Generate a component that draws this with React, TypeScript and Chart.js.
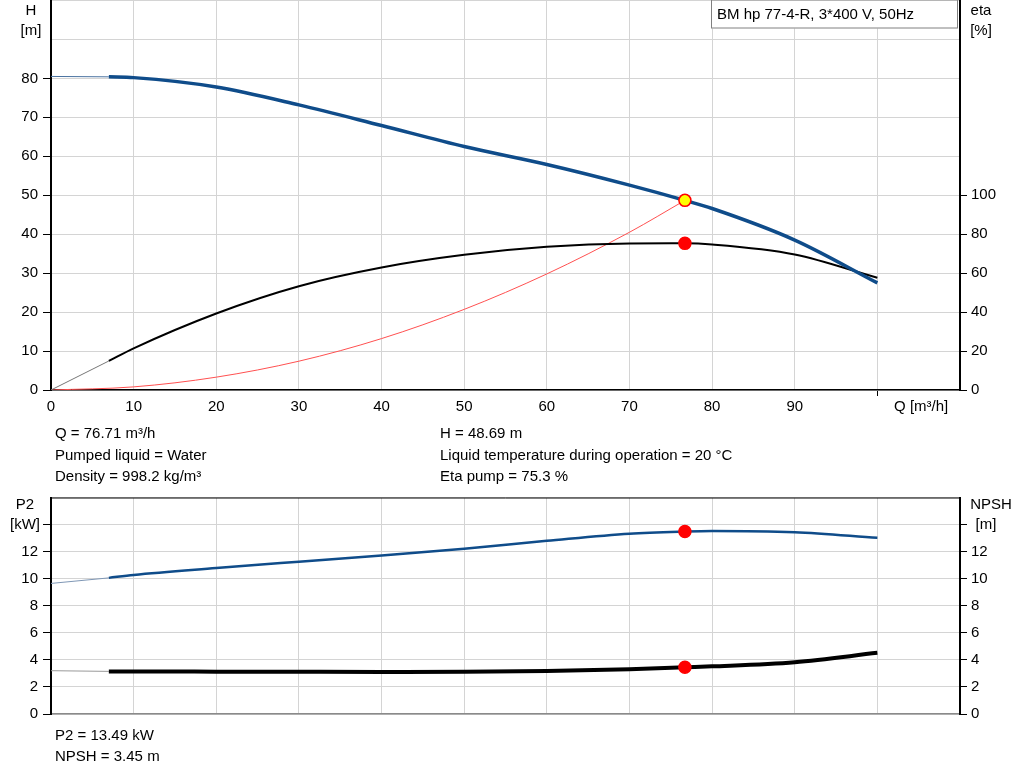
import React, { useEffect, useRef } from 'react'
import Chart from 'chart.js/auto'

const FONT = "'Liberation Sans', Arial, sans-serif"

// pump curve (Q in m³/h)
const flowQ = [7, 10, 20, 30, 40, 50, 60, 70, 76.71, 80, 90, 100]
const headH = [80.4, 80.2, 77.8, 73.2, 67.9, 62.5, 57.9, 52.6, 48.69, 46.6, 38.5, 27.5]
const etaPct = [14.9, 21.4, 39.3, 53.3, 62.9, 69.4, 73.5, 75.2, 75.3, 74.7, 69.6, 57.6]
const p2kW = [10.06, 10.28, 10.79, 11.26, 11.72, 12.22, 12.8, 13.33, 13.49, 13.53, 13.43, 13.02]
const npshM = [3.15, 3.14, 3.13, 3.12, 3.11, 3.12, 3.18, 3.3, 3.45, 3.52, 3.83, 4.52]

// part below min flow (thin line)
const lowQ = [0, 7]
const lowH = [80.5, 80.4]
const lowEta = [0, 14.9]
const lowP2 = [9.65, 10.06]
const lowNpsh = [3.2, 3.15]

// system curve up to the duty point
const sysQ = [0, 10, 20, 30, 40, 50, 60, 70, 76.71]
const sysH = [0, 0.8, 3.3, 7.4, 13.2, 20.7, 29.8, 40.5, 48.69]

const dutyQ = 76.71
const dutyH = 48.69
const dutyEta = 75.3
const dutyP2 = 13.49
const dutyNpsh = 3.45

const BLUE = '#0f4c8a'
const GRID = '#d4d4d4'

const pts = (xs: number[], ys: number[]) => xs.map((x, i) => ({ x, y: ys[i] }))

const curve = (data: any, color: string, width: number, yAxisID = 'y', order = 2) => ({
  data,
  yAxisID,
  order,
  borderColor: color,
  borderWidth: width,
  pointRadius: 0,
  fill: false,
  cubicInterpolationMode: 'monotone',
})

const marker = (x: number, y: number, yAxisID: string, fill: string) => ({
  data: [{ x, y }],
  yAxisID,
  order: 0,
  showLine: false,
  pointRadius: 6,
  pointBackgroundColor: fill,
  pointBorderColor: 'red',
  pointBorderWidth: 1.5,
})

const tickFont = { family: FONT, size: 15 }

const sideAxis = (position: 'left' | 'right', max: number, step: number, lastLabel: number, lastTick: number, onChart: boolean) => ({
  position,
  min: 0,
  max,
  ticks: {
    stepSize: step,
    font: tickFont,
    color: '#000',
    padding: position === 'left' ? 5 : 4,
    callback: (v: any) => (v <= lastLabel ? String(v) : ''),
  },
  grid: {
    drawOnChartArea: onChart,
    color: GRID,
    tickLength: position === 'left' ? 8 : 7,
    tickColor: (c: any) => (c.tick && c.tick.value <= lastTick ? '#000' : 'rgba(0,0,0,0)'),
  },
  border: { color: '#000', width: 2 },
  afterFit: (s: any) => {
    s.width = position === 'left' ? 51 : 64
    // no extra room for the (empty) top label
    s.paddingTop = 0
    s.paddingBottom = 0
  },
})

const txt = (ctx: CanvasRenderingContext2D, s: string, x: number, y: number, align: CanvasTextAlign = 'center') => {
  ctx.fillStyle = '#000'
  ctx.font = `15px ${FONT}`
  ctx.textAlign = align
  ctx.textBaseline = 'middle'
  ctx.fillText(s, x, y)
}

// positions relative to the plot area, which sits at the page top
const topDecor = {
  id: 'topDecor',
  afterDraw(chart: any) {
    const ctx = chart.ctx
    const t = chart.chartArea.top
    const b = chart.chartArea.bottom
    ctx.save()
    txt(ctx, 'H', 31, t + 10)
    txt(ctx, '[m]', 31, t + 30)
    txt(ctx, 'eta', 981, t + 10)
    txt(ctx, '[%]', 981, t + 30)
    txt(ctx, 'Q [m³/h]', chart.scales.x.getPixelForValue(105.3), b + 17)
    // model box
    ctx.fillStyle = '#fff'
    ctx.fillRect(711, t, 247, 28)
    ctx.strokeStyle = '#808080'
    ctx.lineWidth = 1
    ctx.strokeRect(711.5, t - 0.5, 246, 28)
    txt(ctx, 'BM hp 77-4-R, 3*400 V, 50Hz', 717, t + 14, 'left')
    ctx.restore()
  },
}

const bottomDecor = {
  id: 'bottomDecor',
  afterDraw(chart: any) {
    const ctx = chart.ctx
    const a = chart.chartArea
    ctx.save()
    ctx.strokeStyle = '#000'
    ctx.lineWidth = 1
    ctx.beginPath()
    ctx.moveTo(a.left, a.top + 0.5)
    ctx.lineTo(a.right, a.top + 0.5)
    ctx.stroke()
    txt(ctx, 'P2', 25, 15)
    txt(ctx, '[kW]', 25, 35)
    txt(ctx, 'NPSH', 991, 15)
    txt(ctx, '[m]', 986, 35)
    ctx.restore()
  },
}

const PumpCurves: React.FC = () => {
  const topRef = useRef<HTMLCanvasElement | null>(null)
  const botRef = useRef<HTMLCanvasElement | null>(null)

  useEffect(() => {
    const charts: Chart[] = []

    if (topRef.current) {
      charts.push(
        new Chart(topRef.current, {
          type: 'line',
          data: {
            datasets: [
              marker(dutyQ, dutyH, 'y', '#ffff00'),
              marker(dutyQ, dutyEta, 'eta', 'red'),
              curve(pts(flowQ, headH), BLUE, 3.5, 'y', 1),
              curve(pts(lowQ, lowH), '#4a72a0', 1),
              curve(pts(flowQ, etaPct), '#000', 2, 'eta', 1),
              curve(pts(lowQ, lowEta), '#777', 1, 'eta'),
              curve(pts(sysQ, sysH), '#ff5050', 1, 'y', 3),
            ] as any,
          },
          options: {
            animation: false,
            responsive: true,
            maintainAspectRatio: false,
            layout: { padding: 0 },
            plugins: { legend: { display: false }, tooltip: { enabled: false } },
            scales: {
              x: {
                type: 'linear',
                min: 0,
                max: 110,
                ticks: {
                  stepSize: 10,
                  font: tickFont,
                  color: '#000',
                  padding: 2,
                  maxRotation: 0,
                  autoSkip: false,
                  callback: (v: any) => (v <= 90 ? String(v) : ''),
                },
                grid: {
                  color: GRID,
                  tickLength: 6,
                  tickColor: (c: any) => (c.tick && c.tick.value === 100 ? '#000' : 'rgba(0,0,0,0)'),
                },
                border: { color: '#000', width: 1.5 },
                afterFit: (s: any) => {
                  s.height = 35
                  s.paddingTop = 0
                },
              },
              y: sideAxis('left', 100, 10, 80, 80, true),
              eta: sideAxis('right', 200, 20, 100, 100, false),
            } as any,
          },
          plugins: [topDecor],
        })
      )
    }

    if (botRef.current) {
      charts.push(
        new Chart(botRef.current, {
          type: 'line',
          data: {
            datasets: [
              marker(dutyQ, dutyP2, 'y', 'red'),
              marker(dutyQ, dutyNpsh, 'npsh', 'red'),
              curve(pts(flowQ, p2kW), BLUE, 2.5, 'y', 1),
              curve(pts(lowQ, lowP2), '#7f97b5', 1),
              curve(pts(flowQ, npshM), '#000', 4, 'npsh', 1),
              curve(pts(lowQ, lowNpsh), '#999', 1, 'npsh'),
            ] as any,
          },
          options: {
            animation: false,
            responsive: true,
            maintainAspectRatio: false,
            layout: { padding: { top: 6 } },
            plugins: { legend: { display: false }, tooltip: { enabled: false } },
            scales: {
              x: {
                type: 'linear',
                min: 0,
                max: 110,
                ticks: { stepSize: 10, display: false },
                grid: { color: GRID, drawTicks: false },
                border: { color: '#8a8a8a', width: 1.5 },
                afterFit: (s: any) => {
                  s.height = 26
                },
              },
              y: sideAxis('left', 16, 2, 12, 14, true),
              npsh: sideAxis('right', 16, 2, 12, 14, false),
            } as any,
          },
          plugins: [bottomDecor],
        })
      )
    }

    return () => {
      charts.forEach((c) => c.destroy())
    }
  }, [])

  const line = (left: number, top: number, s: string) => (
    <div style={{ position: 'absolute', left, top, fontSize: 15, lineHeight: '18px', whiteSpace: 'nowrap' }}>{s}</div>
  )

  return (
    <div style={{ position: 'absolute', left: 0, top: 0, width: 1024, height: 781, background: '#fff', fontFamily: FONT, color: '#000', overflow: 'hidden' }}>
      <div style={{ position: 'absolute', left: 0, top: -7, width: 1024, height: 432 }}>
        <canvas ref={topRef}></canvas>
      </div>
      <div style={{ position: 'absolute', left: 0, top: 490, width: 1024, height: 250 }}>
        <canvas ref={botRef}></canvas>
      </div>
      {line(55, 424, 'Q = 76.71 m³/h')}
      {line(55, 446, 'Pumped liquid = Water')}
      {line(55, 467, 'Density = 998.2 kg/m³')}
      {line(440, 424, 'H = 48.69 m')}
      {line(440, 446, 'Liquid temperature during operation = 20 °C')}
      {line(440, 467, 'Eta pump = 75.3 %')}
      {line(55, 726, 'P2 = 13.49 kW')}
      {line(55, 747, 'NPSH = 3.45 m')}
    </div>
  )
}

export default function App() {
  return <PumpCurves />
}
